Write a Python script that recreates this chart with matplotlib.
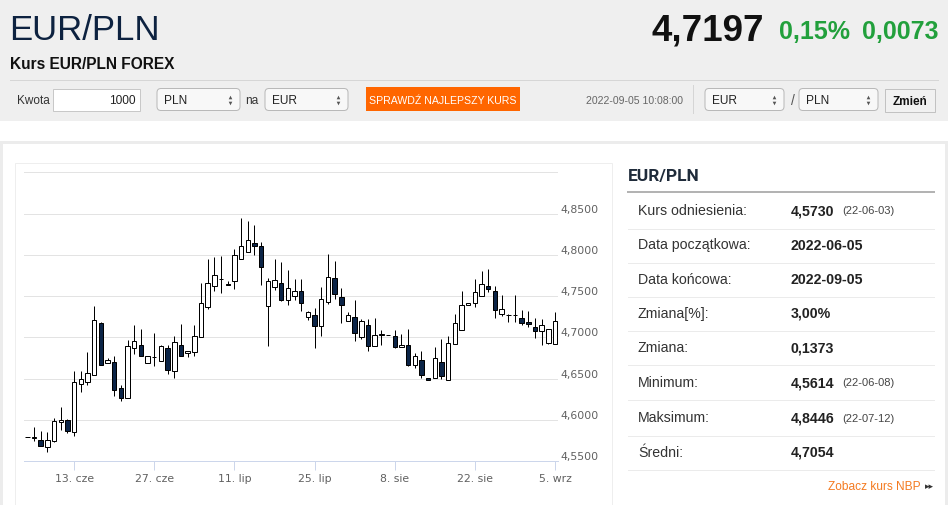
import pandas as pd
import matplotlib
matplotlib.use('Agg')
import matplotlib.pyplot as plt
from matplotlib.patches import Rectangle, FancyBboxPatch

# EUR/PLN daily candles (Sun-Fri)
start_date = '2022-06-05'
end_date = '2022-09-05'
opens = [4.5798, 4.5786, 4.5761, 4.5668, 4.5741, 4.5972, 4.6004, 4.5850, 4.6437, 4.6457,
         4.6546, 4.7173, 4.6692, 4.6700, 4.6392, 4.6271, 4.6878, 4.6914, 4.6692, 4.6765,
         4.6720, 4.6878, 4.6598, 4.6914, 4.6809, 4.6821, 4.7003, 4.7367, 4.7622, 4.7707,
         4.7642, 4.7687, 4.7946, 4.8035, 4.8148, 4.8108, 4.7383, 4.7610, 4.7659, 4.7448,
         4.7501, 4.7561, 4.7246, 4.7266, 4.7137, 4.7428, 4.7715, 4.7489, 4.7198, 4.7246,
         4.7007, 4.7149, 4.6894, 4.7032, 4.7032, 4.7019, 4.6882, 4.6914, 4.6667, 4.6724,
         4.6506, 4.6510, 4.6700, 4.6489, 4.6926, 4.7092, 4.7396, 4.7416, 4.7501, 4.7622,
         4.7565, 4.7282, 4.7270, 4.7266, 4.7238, 4.7189, 4.7129, 4.7080, 4.6930, 4.6926]
highs = [4.5798, 4.5911, 4.5862, 4.5850, 4.6024, 4.6162, 4.6012, 4.6598, 4.6598, 4.6821,
         4.7379, 4.7185, 4.6752, 4.6777, 4.6429, 4.6963, 4.7153, 4.7104, 4.6777, 4.7056,
         4.6914, 4.6914, 4.7023, 4.7165, 4.6841, 4.7145, 4.7663, 4.7954, 4.7970, 4.7986,
         4.7687, 4.8075, 4.8446, 4.8407, 4.8366, 4.8156, 4.7723, 4.7946, 4.7913, 4.7812,
         4.7703, 4.7703, 4.7315, 4.7355, 4.7610, 4.8015, 4.7921, 4.7598, 4.7307, 4.7448,
         4.7226, 4.7226, 4.7238, 4.7084, 4.7032, 4.7084, 4.7036, 4.7104, 4.6813, 4.6837,
         4.6506, 4.6882, 4.6975, 4.7023, 4.7282, 4.7557, 4.7420, 4.7711, 4.7800, 4.7828,
         4.7622, 4.7517, 4.7286, 4.7509, 4.7335, 4.7319, 4.7238, 4.7218, 4.7104, 4.7307]
lows = [4.5798, 4.5741, 4.5680, 4.5614, 4.5737, 4.5883, 4.5842, 4.5810, 4.6344, 4.6425,
        4.6546, 4.6667, 4.6692, 4.6295, 4.6226, 4.6271, 4.6797, 4.6773, 4.6692, 4.6659,
        4.6720, 4.6558, 4.6506, 4.6773, 4.6769, 4.6781, 4.7003, 4.7347, 4.7557, 4.7541,
        4.7634, 4.7590, 4.7946, 4.8035, 4.7994, 4.7630, 4.6902, 4.7570, 4.7444, 4.7387,
        4.7448, 4.7323, 4.7206, 4.6874, 4.7015, 4.7404, 4.7468, 4.7173, 4.7198, 4.6955,
        4.6983, 4.6841, 4.6894, 4.6914, 4.7032, 4.6874, 4.6882, 4.6659, 4.6627, 4.6506,
        4.6489, 4.6510, 4.6497, 4.6489, 4.6926, 4.7092, 4.7396, 4.7367, 4.7501, 4.7549,
        4.7234, 4.7258, 4.7185, 4.7185, 4.7145, 4.7125, 4.6995, 4.6914, 4.6922, 4.6918]
closes = [4.5798, 4.5790, 4.5680, 4.5753, 4.5984, 4.5996, 4.5871, 4.6457, 4.6502, 4.6570,
          4.7210, 4.6667, 4.6724, 4.6368, 4.6271, 4.6894, 4.6951, 4.6773, 4.6777, 4.6769,
          4.6894, 4.6611, 4.6943, 4.6773, 4.6841, 4.7023, 4.7412, 4.7659, 4.7756, 4.7711,
          4.7638, 4.7994, 4.8104, 4.8180, 4.8108, 4.7857, 4.7683, 4.7699, 4.7452, 4.7602,
          4.7561, 4.7420, 4.7307, 4.7137, 4.7468, 4.7727, 4.7525, 4.7387, 4.7266, 4.7056,
          4.7198, 4.6894, 4.7032, 4.7036, 4.7032, 4.6890, 4.6914, 4.6667, 4.6773, 4.6550,
          4.6489, 4.6748, 4.6538, 4.6934, 4.7173, 4.7387, 4.7412, 4.7549, 4.7646, 4.7586,
          4.7331, 4.7339, 4.7266, 4.7270, 4.7173, 4.7157, 4.7076, 4.7145, 4.7096, 4.7197]

tick_dates = ['2022-06-13', '2022-06-27', '2022-07-11', '2022-07-25',
              '2022-08-08', '2022-08-22', '2022-09-05']
tick_labels = ['13. cze', '27. cze', '11. lip', '25. lip', '8. sie', '22. sie', '5. wrz']
y_ticks = [4.55, 4.60, 4.65, 4.70, 4.75, 4.80, 4.85, 4.90]

# side table
table_labels = ['Kurs odniesienia:', 'Data początkowa:', 'Data końcowa:', 'Zmiana[%]:',
                'Zmiana:', 'Minimum:', 'Maksimum:', 'Średni:']
table_values = ['4,5730', '2022-06-05', '2022-09-05', '3,00%', '0,1373', '4,5614', '4,8446', '4,7054']
table_notes = ['(22-06-03)', '', '', '', '', '(22-06-08)', '(22-07-12)', '']

last_rate = '4,7197'
change_pct = '0,15%'
change_abs = '0,0073'

W, H = 948, 506
NARROW = ['Liberation Sans Narrow', 'Liberation Sans', 'DejaVu Sans']
SANS = ['Liberation Sans', 'DejaVu Sans']
PX = 0.72  # one pixel in points

fig = plt.figure(figsize=(W / 100, H / 100), dpi=100)
bg = fig.add_axes([0, 0, 1, 1])
bg.set_xlim(0, W)
bg.set_ylim(H, 0)
bg.axis('off')


def px_axes(x0, y0, x1, y1):
    return fig.add_axes([x0 / W, 1 - y1 / H, (x1 - x0) / W, (y1 - y0) / H])


def select_box(x0, x1, label):
    bg.add_patch(FancyBboxPatch((x0, 89.5), x1 - x0, 22, boxstyle='round,pad=0,rounding_size=4',
                                fc='#f8f8f8', ec='#b9b9b9', lw=PX))
    bg.text(x0 + 7, 100.5, label, family=NARROW, fontsize=8.6, color='#222', va='center')
    bg.plot([x1 - 10], [97.5], marker='^', ms=2.6, color='#555', mew=0)
    bg.plot([x1 - 10], [103.5], marker='v', ms=2.6, color='#555', mew=0)


# header band
bg.add_patch(Rectangle((0, 0), W, 122, fc='#efefef', ec='none'))
bg.plot([10, 938], [80.5, 80.5], color='#d6d6d6', lw=PX)
bg.text(9, 40, 'EUR/PLN', family=NARROW, fontsize=25, color='#0d2240', va='baseline')
bg.text(10, 69, 'Kurs EUR/PLN FOREX', family=NARROW, fontsize=11.2, fontweight='bold',
        color='#111', va='baseline')
bg.text(764, 40, last_rate, family=NARROW, fontsize=26.5, fontweight='bold', color='#111',
        ha='right', va='baseline')
bg.text(779, 39, change_pct, family=NARROW, fontsize=18, fontweight='bold', color='#22a03c',
        va='baseline')
bg.text(939, 39, change_abs, family=NARROW, fontsize=18, fontweight='bold', color='#22a03c',
        ha='right', va='baseline')

# form row
bg.text(17, 101, 'Kwota', family=NARROW, fontsize=8.5, color='#333', va='center')
bg.add_patch(Rectangle((53.5, 89.5), 87, 22, fc='white', ec='#c8c8c8', lw=PX))
bg.text(136, 101, '1000', family=NARROW, fontsize=8.6, color='#222', va='center', ha='right')
select_box(157, 240, 'PLN')
bg.text(245, 101, 'na', family=NARROW, fontsize=8.6, color='#333', va='center')
select_box(265, 348, 'EUR')
bg.add_patch(Rectangle((366, 88), 154, 24, fc='#ff6600', ec='none'))
bg.text(443, 100.5, 'SPRAWDŹ NAJLEPSZY KURS', family=NARROW, fontsize=7.6, color='white',
        ha='center', va='center')
bg.text(683, 101, '2022-09-05 10:08:00', family=NARROW, fontsize=7.6, color='#666',
        ha='right', va='center')
bg.plot([693.5, 693.5], [86, 114], color='#d5d5d5', lw=PX)
select_box(705, 784, 'EUR')
bg.text(793, 101, '/', family=NARROW, fontsize=10, color='#555', va='center', ha='center')
select_box(799, 878, 'PLN')
bg.add_patch(Rectangle((885.5, 89.5), 50, 23, fc='#f1f1f1', ec='#c2c2c2', lw=PX))
bg.text(910.5, 101.5, 'Zmień', family=NARROW, fontsize=8.5, fontweight='bold', color='#111',
        ha='center', va='center')

# content panel
bg.add_patch(Rectangle((1.5, 143), W - 3, 400, fc='white', ec='#ececec', lw=3 * PX))
bg.add_patch(Rectangle((15.5, 163.5), 596.5, 400, fc='white', ec='#eeeeee', lw=PX))

# side table
bg.text(628, 176, 'EUR/PLN', family=['Roboto', 'DejaVu Sans'], fontsize=12.5, fontweight='bold',
        color='#1f2b3a', va='center')
bg.plot([628, 934], [192.5, 192.5], color='#b3b3b3', lw=2 * PX)
row_y = [211, 245.5, 280, 314, 348.5, 383, 418.5, 453]
sep_y = [229.5, 263.5, 297.5, 331.5, 365.5, 400.5, 436.5, 470.5]
for lab, val, note, y, s in zip(table_labels, table_values, table_notes, row_y, sep_y):
    bg.text(638, y, lab, family=SANS, fontsize=10.2, color='#333', va='center')
    bg.text(791, y, val, family=SANS, fontsize=10.2, fontweight='bold', color='#222', va='center')
    if note:
        bg.text(842, y + 0.5, note, family=SANS, fontsize=8, color='#444', va='center')
    bg.plot([628, 934], [s, s], color='#ebebeb', lw=PX)
bg.text(921, 487, 'Zobacz kurs NBP', family=SANS, fontsize=8.6, color='#f47a20',
        ha='right', va='center')
bg.text(925, 487, '▸▸', family=['DejaVu Sans'], fontsize=6.5, color='#333', va='center')

# candlestick chart
dates = pd.date_range(start_date, end_date)
dates = dates[dates.dayofweek != 5]
pos = list(range(len(dates)))

ax = px_axes(24.0, 171.2, 558.4, 462.3)
ax.set_facecolor('none')
ax.set_xlim(-0.5, len(dates) - 0.5)
ax.set_ylim(4.55, 4.9025)

up_col, down_col = 'white', '#0b2447'
body_w = 0.66
ax.vlines(pos, lows, highs, color='black', lw=PX, zorder=2)
for i in pos:
    o, c = opens[i], closes[i]
    col = up_col if c >= o else down_col
    ax.bar(i, abs(c - o), bottom=min(o, c), width=body_w, color=col, edgecolor='black',
           linewidth=PX, zorder=3)

ax.set_yticks(y_ticks)
ax.set_yticklabels([f'{v:.4f}'.replace('.', ',') if v < 4.89 else '' for v in y_ticks])
ax.yaxis.tick_right()
ax.tick_params(axis='y', length=0, pad=1.5, labelsize=7.8, labelcolor='#606060')
for lab in ax.get_yticklabels():
    lab.set_va('bottom')
    lab.set_family('DejaVu Sans')
ax.grid(axis='y', color='#e3e3e3', lw=PX, zorder=0)

date_list = list(dates.strftime('%Y-%m-%d'))
ax.set_xticks([date_list.index(d) for d in tick_dates])
ax.set_xticklabels(tick_labels)
ax.tick_params(axis='x', length=9 * PX, width=PX, color='#ccd6eb', pad=2,
               labelsize=7.8, labelcolor='#606060')
for lab in ax.get_xticklabels():
    lab.set_family('DejaVu Sans')

for side in ['top', 'right', 'left']:
    ax.spines[side].set_visible(False)
ax.spines['bottom'].set_color('#ccd6eb')
ax.spines['bottom'].set_linewidth(PX)

fig.savefig('out.png', dpi=100)
